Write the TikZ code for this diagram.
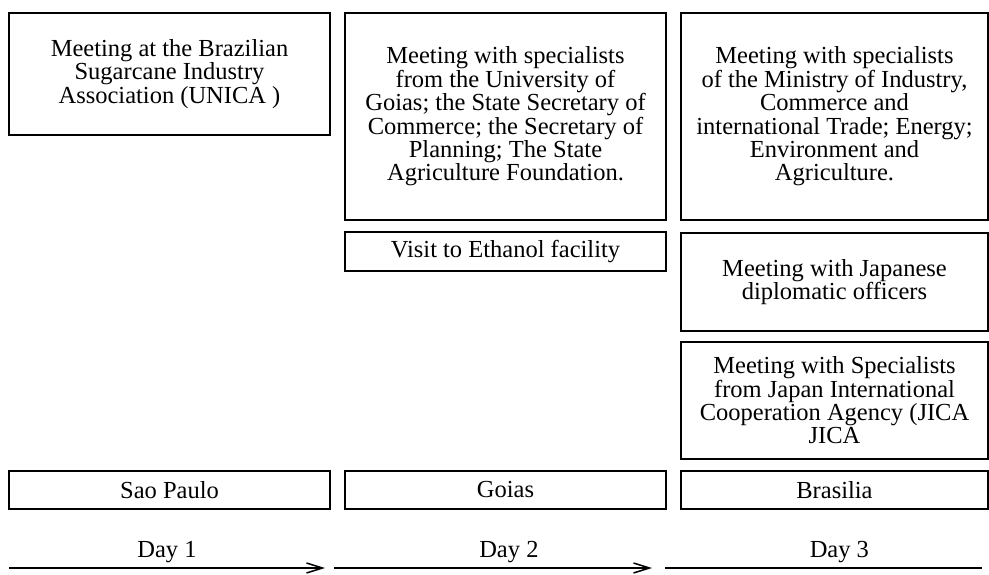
\documentclass[tikz,border=0pt]{standalone}
\usepackage{fontspec}
\setmainfont{Liberation Serif}
\usepackage{tikz}
\usetikzlibrary{arrows.meta,positioning}

\begin{document}
\begin{tikzpicture}[x=1pt,y=-1pt,
box/.style={draw,line width=1.5pt,inner sep=0pt,outer sep=0pt,align=center,
font=\fontsize{24.5pt}{23.4pt}\selectfont},
wa/.style={minimum width=321pt},
wb/.style={minimum width=307pt},
day/.style={anchor=base,inner sep=0pt,yshift=11pt,font=\fontsize{24.5pt}{23.4pt}\selectfont},
arr/.style={-{Straight Barb[length=16pt,width=10pt,line width=1.5pt]},line width=1.5pt}
]
\useasboundingbox (0,0) rectangle (989,575);
\node[box,wa,minimum height=122pt,anchor=north west] (unica) at (9,13)
{Meeting at the Brazilian\\Sugarcane Industry\\Association (UNICA )};
\node[box,wa,minimum height=207pt,right=15pt of unica.north east,anchor=north west] (goiasmeet)
{Meeting with specialists\\from the University of\\Goias; the State Secretary of\\Commerce; the Secretary of\\Planning; The State\\Agriculture Foundation.};
\node[box,wb,minimum height=207pt,right=15pt of goiasmeet.north east,anchor=north west] (brasmeet)
{Meeting with specialists\\of the Ministry of Industry,\\Commerce and\\international Trade; Energy;\\Environment and\\Agriculture.};
\node[box,wa,minimum height=39pt,below=12pt of goiasmeet] (ethanol) {Visit to Ethanol facility};
\node[box,wb,minimum height=98pt,below=13pt of brasmeet] (diplomat)
{Meeting with Japanese\\diplomatic officers};
\node[box,wb,minimum height=117pt,below=11pt of diplomat] (jica)
{Meeting with Specialists\\from Japan International\\Cooperation Agency (JICA\\JICA};
\node[box,wb,minimum height=38pt,below=12pt of jica] (brasilia) {Brasilia};
\node[box,wa,minimum height=38pt,left=15pt of brasilia] (goias) {Goias};
\node[box,wa,minimum height=38pt,left=15pt of goias] (saopaulo) {Sao Paulo};

\coordinate (dayA) at (9,568);
\coordinate (dayAend) at (325,568);
\coordinate (dayB) at (334,568);
\coordinate (dayBend) at (652,568);
\coordinate (dayC) at (665,568);
\coordinate (dayCend) at (982,568);
\draw[arr] (dayA) -- node[day,pos=.5] (labA) {Day 1} (dayAend);
\draw[arr] (dayB) -- node[day,pos=.55] (labB) {Day 2} (dayBend);
\draw[line width=1.5pt] (dayC) -- node[day,pos=.55] (labC) {Day 3} (dayCend);
\end{tikzpicture}
\end{document}
